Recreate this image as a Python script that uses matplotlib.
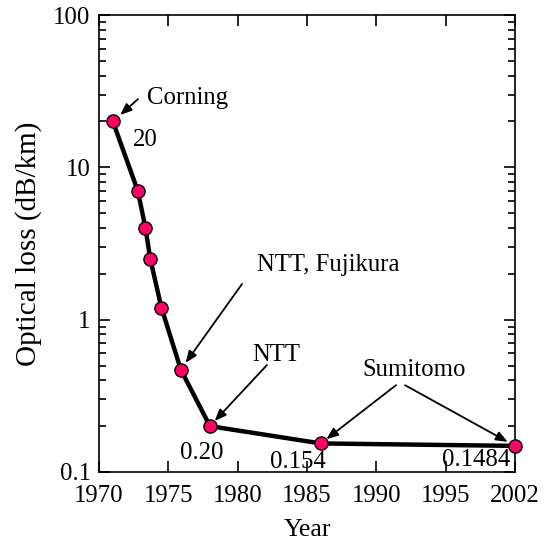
import matplotlib
matplotlib.use("Agg")
import matplotlib.pyplot as plt
from matplotlib.ticker import FixedLocator, FixedFormatter, LogLocator, NullFormatter

# Data
years = [1971.0, 1972.8, 1973.35, 1973.7, 1974.5, 1975.9, 1978.0, 1986.0, 2000.0]
loss = [20, 7.0, 4.0, 2.5, 1.2, 0.47, 0.20, 0.154, 0.1484]
xtick_pos = [1970, 1975, 1980, 1985, 1990, 1995, 2000]
xtick_labels = ["1970", "1975", "1980", "1985", "1990", "1995", "2002"]
ytick_pos = [0.1, 1, 10, 100]
ytick_labels = ["0.1", "1", "10", "100"]

plt.rcParams['font.family'] = ['Liberation Serif', 'DejaVu Serif']
FS = 17.8

fig = plt.figure(figsize=(5.51, 5.40), dpi=100)
ax = fig.add_axes([99/551, 68/540, 416/551, 457/540])

ax.plot(years, loss, color='black', lw=3.2, zorder=3, clip_on=False)
ax.plot(years, loss, linestyle='none', marker='o', markersize=9.5,
        markerfacecolor='#FF0066', markeredgecolor='black', markeredgewidth=1.0,
        zorder=4, clip_on=False)

ax.set_yscale('log')
ax.set_xlim(1970, 2000)
ax.set_ylim(0.1, 100)

ax.xaxis.set_major_locator(FixedLocator(xtick_pos))
ax.xaxis.set_major_formatter(FixedFormatter(xtick_labels))
ax.yaxis.set_major_locator(FixedLocator(ytick_pos))
ax.yaxis.set_major_formatter(FixedFormatter(ytick_labels))
ax.yaxis.set_minor_locator(LogLocator(base=10, subs=range(2, 10)))
ax.yaxis.set_minor_formatter(NullFormatter())

ax.tick_params(which='both', direction='in', top=True, right=True, labelsize=FS, width=1.2)
ax.tick_params(which='major', length=8)
ax.tick_params(which='minor', length=5)
ax.tick_params(axis='x', pad=9)
ax.tick_params(axis='y', pad=6)
for s in ax.spines.values():
    s.set_linewidth(1.2)

ax.set_xlabel('Year', fontsize=18.5, labelpad=9)
ax.set_ylabel('Optical loss (dB/km)', fontsize=21, labelpad=8)

tkw = dict(transform=ax.transAxes, fontsize=FS, ha='left', va='center')
ax.text(0.1154, 0.8184, 'Corning', **tkw)
ax.text(0.0817, 0.7265, '20', **tkw)
ax.text(0.380, 0.453, 'NTT, Fujikura', **tkw)
ax.text(0.3678, 0.256, 'NTT', **tkw)
ax.text(0.632, 0.2232, 'Sumitomo', **tkw)
ax.text(0.1947, 0.0416, '0.20', **tkw)
ax.text(0.411, 0.0219, '0.154', **tkw)
ax.text(0.8245, 0.0263, '0.1484', **tkw)

def arrow(idx, start, shrink):
    ax.annotate('', xy=(years[idx], loss[idx]), xycoords='data',
                xytext=start, textcoords='axes fraction',
                arrowprops=dict(arrowstyle='-|>,head_length=0.5,head_width=0.2',
                                color='black', lw=1.3,
                                mutation_scale=14, shrinkA=0, shrinkB=shrink),
                zorder=5, annotation_clip=False)

arrow(0, (0.09375, 0.816), 7)
arrow(5, (0.3438, 0.4114), 6)
arrow(6, (0.4038, 0.2341), 5)
arrow(7, (0.714, 0.190), 5)
arrow(8, (0.7356, 0.190), 6)

fig.savefig('out.png', dpi=100)
